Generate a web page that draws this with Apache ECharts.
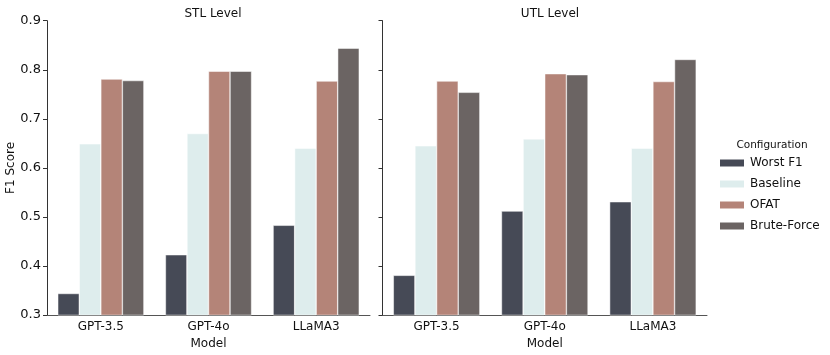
<!DOCTYPE html>
<html>
<head>
<meta charset="utf-8">
<script src="https://cdn.jsdelivr.net/npm/echarts@6/dist/echarts.min.js"></script>
<style>
  html, body { margin: 0; padding: 0; background: #fff; }
  #chart { width: 830px; height: 355px; }
</style>
</head>
<body>
<div id="chart"></div>
<script>
  // data
  var models = ['GPT-3.5', 'GPT-4o', 'LLaMA3'];
  var configs = ['Worst F1', 'Baseline', 'OFAT', 'Brute-Force'];
  var colors = ['#464a56', '#deeded', '#b48478', '#6b6463'];
  var yTicks = [0.3, 0.4, 0.5, 0.6, 0.7, 0.8, 0.9];

  var stlWorst = [0.344, 0.423, 0.483];
  var stlBaseline = [0.649, 0.670, 0.640];
  var stlOfat = [0.781, 0.797, 0.777];
  var stlBrute = [0.778, 0.797, 0.844];

  var utlWorst = [0.381, 0.512, 0.531];
  var utlBaseline = [0.645, 0.659, 0.640];
  var utlOfat = [0.777, 0.792, 0.776];
  var utlBrute = [0.754, 0.790, 0.821];

  var font = 'DejaVu Sans';
  var ink = '#111';
  var chart = echarts.init(document.getElementById('chart'));

  function xAxis(idx) {
    return {
      type: 'category',
      gridIndex: idx,
      data: models,
      name: 'Model',
      nameLocation: 'middle',
      nameGap: 21,
      nameTextStyle: { color: ink, fontSize: 12, fontFamily: font },
      axisLine: { lineStyle: { color: '#555', width: 1 } },
      axisTick: { alignWithLabel: true, length: 4, lineStyle: { color: '#555' } },
      axisLabel: { color: ink, fontSize: 12, fontFamily: font, margin: 6 }
    };
  }

  function yAxis(idx, showLabels) {
    return {
      type: 'value',
      gridIndex: idx,
      min: yTicks[0],
      max: yTicks[yTicks.length - 1],
      interval: 0.1,
      name: showLabels ? 'F1 Score' : '',
      nameLocation: 'middle',
      nameGap: 30,
      nameTextStyle: { color: ink, fontSize: 12, fontFamily: font },
      splitLine: { show: false },
      axisLine: { show: true, lineStyle: { color: '#333', width: 1 } },
      axisTick: { show: true, length: 4, lineStyle: { color: '#333' } },
      axisLabel: {
        show: showLabels, color: ink, fontSize: 13, fontFamily: font, margin: 6,
        formatter: function (v) { return v.toFixed(1); }
      }
    };
  }

  function bars(idx, name, data, color) {
    return {
      name: name,
      type: 'bar',
      xAxisIndex: idx,
      yAxisIndex: idx,
      data: data,
      barGap: '0%',
      barCategoryGap: '20%',
      itemStyle: { color: color, borderColor: '#fff', borderWidth: 0.5 }
    };
  }

  var option = {
    animation: false,
    color: colors,
    title: [
      { text: 'STL Level', left: 208, top: 3, textAlign: 'center',
        textStyle: { fontSize: 12, fontWeight: 'normal', color: ink, fontFamily: font } },
      { text: 'UTL Level', left: 545, top: 3, textAlign: 'center',
        textStyle: { fontSize: 12, fontWeight: 'normal', color: ink, fontFamily: font } },
      { text: 'Configuration', left: 767, top: 135, textAlign: 'center',
        textStyle: { fontSize: 10.5, fontWeight: 'normal', color: ink, fontFamily: font } }
    ],
    legend: {
      orient: 'vertical',
      left: 713,
      top: 152,
      itemWidth: 26,
      itemHeight: 9,
      itemGap: 9,
      icon: 'rect',
      data: configs,
      textStyle: { fontSize: 12, color: ink, fontFamily: font }
    },
    grid: [
      { left: 47, width: 323, top: 20.7, bottom: 39.3 },
      { left: 382.5, width: 324.5, top: 20.7, bottom: 39.3 }
    ],
    xAxis: [xAxis(0), xAxis(1)],
    yAxis: [yAxis(0, true), yAxis(1, false)],
    series: [
      bars(0, configs[0], stlWorst, colors[0]),
      bars(0, configs[1], stlBaseline, colors[1]),
      bars(0, configs[2], stlOfat, colors[2]),
      bars(0, configs[3], stlBrute, colors[3]),
      bars(1, configs[0], utlWorst, colors[0]),
      bars(1, configs[1], utlBaseline, colors[1]),
      bars(1, configs[2], utlOfat, colors[2]),
      bars(1, configs[3], utlBrute, colors[3])
    ]
  };

  chart.setOption(option);
</script>
</body>
</html>
